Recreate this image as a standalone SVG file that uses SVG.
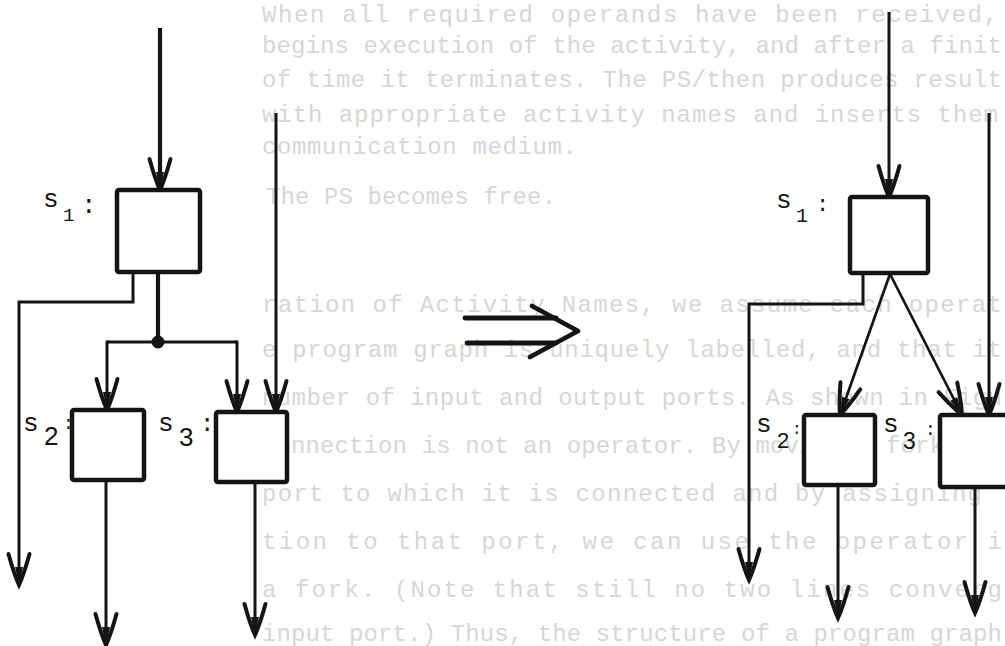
<svg xmlns="http://www.w3.org/2000/svg" width="1005" height="646" viewBox="0 0 1005 646">
<defs>
<style>
.bg{font-family:"Liberation Mono","DejaVu Sans Mono",monospace;font-size:24px;fill:#d6d6d6}
.ln{fill:none;stroke:#141414;stroke-width:3;stroke-linejoin:miter}
.th{stroke-width:4.2}
.tn{stroke-width:2.7}
.box{fill:#fff;stroke:#141414;stroke-width:4.5}
.lb{font-family:"Liberation Mono","DejaVu Sans Mono",monospace;fill:#141414}
.d{font-family:"Liberation Sans","DejaVu Sans",sans-serif}
</style>
<marker id="ah" markerUnits="userSpaceOnUse" orient="auto" markerWidth="40" markerHeight="30" viewBox="0 0 40 30" refX="34" refY="15" overflow="visible">
<path d="M3,4.5 Q23,10 34,15 Q23,20 3,25.5" fill="none" stroke="#141414" stroke-width="4" stroke-linecap="round"/>
<path d="M16,11 L34,15 L16,19 Z" fill="#141414"/>
</marker>
</defs>
<rect width="1005" height="646" fill="#fff"/>

<g id="show-through" class="bg">
<text x="262" y="22" textLength="736" lengthAdjust="spacing">When all required operands have been received,</text>
<text x="262" y="53" textLength="740" lengthAdjust="spacing">begins execution of the activity, and after a finit</text>
<text x="262" y="87" textLength="740" lengthAdjust="spacing">of time it terminates.  The PS/then produces result</text>
<text x="262" y="122" textLength="736" lengthAdjust="spacing">with appropriate activity names and inserts them</text>
<text x="262" y="154" textLength="315" lengthAdjust="spacing">communication medium.</text>
<text x="266" y="204" textLength="290" lengthAdjust="spacing">The PS becomes free.</text>
<text x="262" y="312" textLength="740" lengthAdjust="spacing">ration of Activity Names, we assume each operat</text>
<text x="262" y="357" textLength="740" lengthAdjust="spacing">e program graph is uniquely labelled, and that it</text>
<text x="262" y="405" textLength="740" lengthAdjust="spacing">number of input and output ports.  As shown in Figu</text>
<text x="262" y="453" textLength="740" lengthAdjust="spacing">connection is not an operator.  By moving a fork bac</text>
<text x="262" y="501" textLength="720" lengthAdjust="spacing">port to which it is connected and by assigning</text>
<text x="262" y="549" textLength="740" lengthAdjust="spacing">tion to that port, we can use the operator i</text>
<text x="262" y="597" textLength="740" lengthAdjust="spacing">a fork.  (Note that still no two lines converg</text>
<text x="262" y="641" textLength="740" lengthAdjust="spacing">input port.)  Thus, the structure of a program graph</text>
</g>

<g id="connectors">
<line class="ln th" x1="160" y1="28" x2="160" y2="190" marker-end="url(#ah)"/>
<polyline class="ln" points="133,272 133,302 19,302 19,585" marker-end="url(#ah)"/>
<line class="ln th" x1="158" y1="272" x2="158" y2="342"/>
<circle cx="158" cy="342" r="6.5" fill="#141414"/>
<line class="ln" x1="107" y1="342" x2="237" y2="342"/>
<line class="ln" x1="107" y1="340.5" x2="107" y2="410" marker-end="url(#ah)"/>
<line class="ln" x1="237" y1="340.5" x2="237" y2="412" marker-end="url(#ah)"/>
<line class="ln" x1="276" y1="113" x2="276" y2="412" marker-end="url(#ah)"/>
<line class="ln" x1="106" y1="480" x2="106" y2="645" marker-end="url(#ah)"/>
<line class="ln" x1="255" y1="482" x2="255" y2="635" marker-end="url(#ah)"/>
<line class="ln" x1="889" y1="12" x2="889" y2="197" marker-end="url(#ah)"/>
<polyline class="ln" points="863,273 863,304 749,304 749,580" marker-end="url(#ah)"/>
<line class="ln tn" x1="890" y1="274" x2="840" y2="415" marker-end="url(#ah)"/>
<line class="ln tn" x1="890" y1="274" x2="962" y2="415" marker-end="url(#ah)"/>
<line class="ln" x1="989" y1="113" x2="989" y2="415" marker-end="url(#ah)"/>
<line class="ln" x1="838" y1="485" x2="838" y2="618" marker-end="url(#ah)"/>
<line class="ln" x1="975" y1="487" x2="975" y2="613" marker-end="url(#ah)"/>
</g>

<g id="transform-arrow" fill="none" stroke="#141414" stroke-width="4.8" stroke-linecap="round" stroke-linejoin="round">
<line x1="465" y1="318" x2="556" y2="318"/>
<line x1="467" y1="343" x2="556" y2="343"/>
<polyline points="532,306 578,331 530,357"/>
</g>

<g id="left-s1">
<rect class="box" x="117" y="190" width="83" height="82" rx="2"/>
<text class="lb" font-size="26"><tspan x="43" y="207">s</tspan><tspan x="63" y="221" font-size="19">1</tspan><tspan x="81" y="213">:</tspan></text>
</g>
<g id="left-s2">
<rect class="box" x="72" y="410" width="72" height="70" rx="2"/>
<text class="lb" font-size="26"><tspan x="23" y="431">s</tspan><tspan class="d" x="44" y="445">2</tspan><tspan x="63" y="429" font-size="18">:</tspan></text>
</g>
<g id="left-s3">
<rect class="box" x="216" y="412" width="71" height="70" rx="2"/>
<text class="lb" font-size="26"><tspan x="158" y="431">s</tspan><tspan class="d" x="179" y="446">3</tspan><tspan x="200" y="431" font-size="24">:</tspan></text>
</g>

<g id="right-s1">
<rect class="box" x="850" y="197" width="78" height="76" rx="2"/>
<text class="lb" font-size="26"><tspan x="776" y="208">s</tspan><tspan x="796" y="222" font-size="20">1</tspan><tspan x="816" y="211" font-size="22">:</tspan></text>
</g>
<g id="right-s2">
<rect class="box" x="804" y="415" width="71" height="70" rx="2"/>
<text class="lb" font-size="26"><tspan x="756" y="432">s</tspan><tspan class="d" x="777" y="448" font-size="22">2</tspan><tspan x="792" y="434" font-size="16">:</tspan></text>
</g>
<g id="right-s3">
<rect class="box" x="940" y="415" width="80" height="72" rx="2"/>
<text class="lb" font-size="26"><tspan x="883" y="432">s</tspan><tspan class="d" x="903" y="449" font-size="23">3</tspan><tspan x="925" y="435" font-size="18">:</tspan></text>
</g>
</svg>
